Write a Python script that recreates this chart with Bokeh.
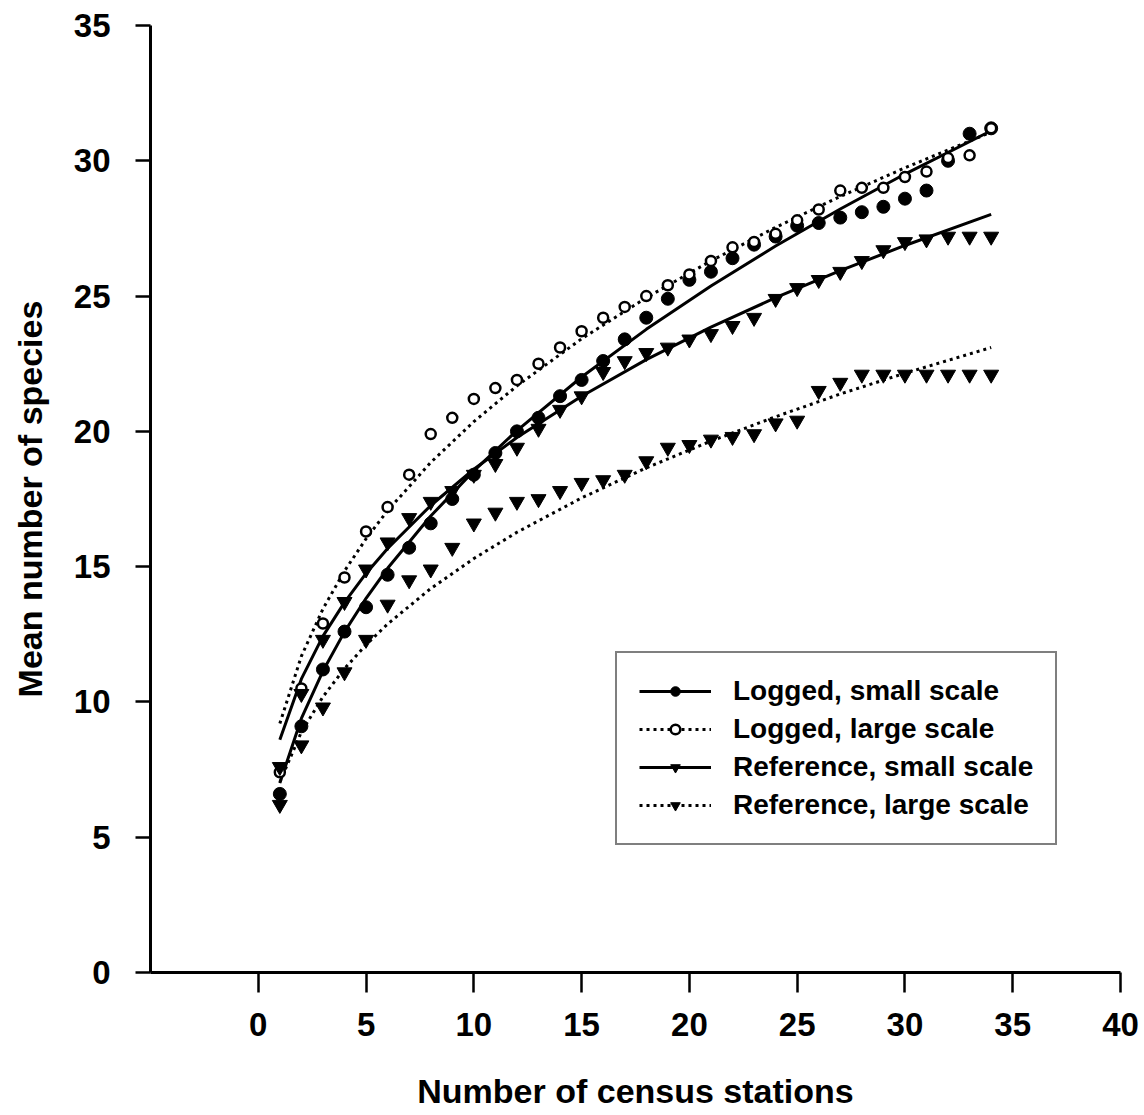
from bokeh.plotting import figure
from bokeh.models import Range1d, FixedTicker, Legend, LegendItem
from bokeh.embed import file_html
from bokeh.resources import INLINE

# Number of census stations
stations = [1, 2, 3, 4, 5, 6, 7, 8, 9, 10, 11, 12, 13, 14, 15, 16, 17,
            18, 19, 20, 21, 22, 23, 24, 25, 26, 27, 28, 29, 30, 31, 32, 33, 34]

logged_small = [6.6, 9.1, 11.2, 12.6, 13.5, 14.7, 15.7, 16.6, 17.5, 18.4, 19.2, 20.0,
                20.5, 21.3, 21.9, 22.6, 23.4, 24.2, 24.9, 25.6, 25.9, 26.4, 26.9, 27.2,
                27.6, 27.7, 27.9, 28.1, 28.3, 28.6, 28.9, 30.0, 31.0, 31.2]
logged_large = [7.4, 10.5, 12.9, 14.6, 16.3, 17.2, 18.4, 19.9, 20.5, 21.2, 21.6, 21.9,
                22.5, 23.1, 23.7, 24.2, 24.6, 25.0, 25.4, 25.8, 26.3, 26.8, 27.0, 27.3,
                27.8, 28.2, 28.9, 29.0, 29.0, 29.4, 29.6, 30.1, 30.2, 31.2]
reference_small = [7.6, 10.3, 12.3, 13.7, 14.9, 15.9, 16.8, 17.4, 17.8, 18.4, 18.8, 19.4,
                   20.1, 20.8, 21.3, 22.2, 22.6, 22.9, 23.1, 23.4, 23.6, 23.9, 24.2, 24.9,
                   25.3, 25.6, 25.9, 26.3, 26.7, 27.0, 27.1, 27.2, 27.2, 27.2]
reference_large = [6.2, 8.4, 9.8, 11.1, 12.3, 13.6, 14.5, 14.9, 15.7, 16.6, 17.0, 17.4,
                   17.5, 17.8, 18.1, 18.2, 18.4, 18.9, 19.4, 19.5, 19.7, 19.8, 19.9, 20.3,
                   20.4, 21.5, 21.8, 22.1, 22.1, 22.1, 22.1, 22.1, 22.1, 22.1]

# Fitted curves at these station counts
fit_x = [1, 2, 3, 4, 5, 6, 8, 10, 12, 15, 18, 21, 24, 27, 30, 34]
fit_logged_small = [7.0, 9.39, 11.14, 12.59, 13.83, 14.94, 16.87, 18.54, 20.03, 22.01,
                    23.77, 25.37, 26.85, 28.22, 29.51, 31.11]
fit_logged_large = [9.2, 11.69, 13.44, 14.84, 16.03, 17.07, 18.85, 20.36, 21.68, 23.42,
                    24.94, 26.30, 27.54, 28.68, 29.74, 31.06]
fit_reference_small = [8.6, 10.85, 12.43, 13.68, 14.75, 15.67, 17.26, 18.60, 19.77, 21.30,
                       22.65, 23.85, 24.94, 25.94, 26.87, 28.02]
fit_reference_large = [7.04, 8.89, 10.19, 11.23, 12.11, 12.88, 14.19, 15.30, 16.27, 17.54,
                       18.65, 19.64, 20.54, 21.38, 22.15, 23.10]

x_ticks = [0, 5, 10, 15, 20, 25, 30, 35, 40]
y_ticks = [0, 5, 10, 15, 20, 25, 30, 35]

FONT = "Liberation Sans"

p = figure(width=1140, height=1112, x_range=Range1d(-5, 40), y_range=Range1d(0, 35),
           output_backend="svg", toolbar_location=None,
           min_border_left=150, min_border_top=25, min_border_right=20, min_border_bottom=0)
p.xgrid.visible = False
p.ygrid.visible = False
p.outline_line_color = None
p.background_fill_color = "white"

p.xaxis.ticker = FixedTicker(ticks=x_ticks)
p.yaxis.ticker = FixedTicker(ticks=y_ticks)
for ax in (p.xaxis[0], p.yaxis[0]):
    ax.axis_line_width = 3
    ax.axis_line_color = "black"
    ax.major_tick_line_width = 2.5
    ax.major_tick_line_color = "black"
    ax.minor_tick_line_color = None
    ax.major_tick_in = 0
    ax.major_label_text_font = FONT
    ax.major_label_text_font_style = "bold"
    ax.major_label_text_font_size = "33px"
    ax.major_label_text_color = "black"
    ax.axis_label_text_font = FONT
    ax.axis_label_text_font_style = "bold"
    ax.axis_label_text_font_size = "34px"
    ax.axis_label_text_color = "black"

p.xaxis.axis_label = "Number of census stations"
p.yaxis.axis_label = "Mean number of species"
p.xaxis.major_tick_out = 20
p.xaxis.major_label_standoff = 20
p.xaxis.axis_label_standoff = 33
p.yaxis.major_tick_out = 15
p.yaxis.major_label_standoff = 25
p.yaxis.axis_label_standoff = 22

DOT = "3 4"
l1 = p.line(fit_x, fit_logged_small, line_color="black", line_width=3)
l2 = p.line(fit_x, fit_logged_large, line_color="black", line_width=3, line_dash=DOT)
l3 = p.line(fit_x, fit_reference_small, line_color="black", line_width=3)
l4 = p.line(fit_x, fit_reference_large, line_color="black", line_width=3, line_dash=DOT)

s1 = p.scatter(stations, logged_small, marker="circle", size=13, fill_color="black", line_color="black")
s2 = p.scatter(stations, logged_large, marker="circle", size=10, fill_color="white",
               line_color="black", line_width=2.5)
s3 = p.scatter(stations, reference_small, marker="inverted_triangle", size=15,
               fill_color="black", line_color="black")
s4 = p.scatter(stations, reference_large, marker="inverted_triangle", size=15,
               fill_color="black", line_color="black")

legend = Legend(items=[
    LegendItem(label="Logged, small scale", renderers=[l1, s1]),
    LegendItem(label="Logged, large scale", renderers=[l2, s2]),
    LegendItem(label="Reference, small scale", renderers=[l3, s3]),
    LegendItem(label="Reference, large scale", renderers=[l4, s4]),
], location=(465, 127))
legend.border_line_color = "black"
legend.border_line_width = 2
legend.background_fill_color = "white"
legend.background_fill_alpha = 1
legend.padding = 22
legend.spacing = 6
legend.margin = 0
legend.glyph_width = 72
legend.glyph_height = 24
legend.label_standoff = 22
legend.label_text_font = FONT
legend.label_text_font_style = "bold"
legend.label_text_font_size = "28px"
legend.label_text_color = "black"
p.add_layout(legend)

open("out.html", "w").write(file_html(p, INLINE))
